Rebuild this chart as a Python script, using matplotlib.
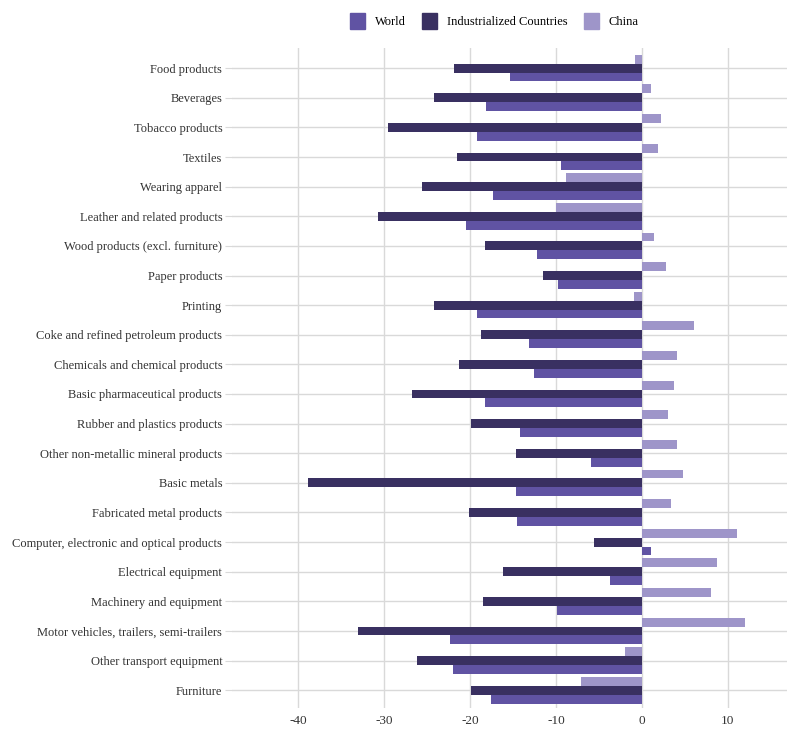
import numpy as np
import matplotlib
matplotlib.use('Agg')
import matplotlib.pyplot as plt
from matplotlib.patches import Patch

categories = [
    "Food products", "Beverages", "Tobacco products", "Textiles",
    "Wearing apparel", "Leather and related products",
    "Wood products (excl. furniture)", "Paper products", "Printing",
    "Coke and refined petroleum products", "Chemicals and chemical products",
    "Basic pharmaceutical products", "Rubber and plastics products",
    "Other non-metallic mineral products", "Basic metals",
    "Fabricated metal products", "Computer, electronic and optical products",
    "Electrical equipment", "Machinery and equipment",
    "Motor vehicles, trailers, semi-trailers", "Other transport equipment",
    "Furniture",
]
world = [-15.4, -18.1, -19.2, -9.4, -17.3, -20.5, -12.2, -9.7, -19.2, -13.1,
         -12.5, -18.2, -14.2, -5.9, -14.7, -14.5, 1.1, -3.7, -9.9, -22.3,
         -22.0, -17.6]
industrialized = [-21.9, -24.2, -29.6, -21.5, -25.6, -30.7, -18.3, -11.5, -24.2,
                  -18.7, -21.3, -26.7, -19.9, -14.7, -38.8, -20.1, -5.6, -16.1,
                  -18.5, -33.0, -26.2, -19.9]
china = [-0.75, 1.1, 2.2, 1.9, -8.8, -10.0, 1.45, 2.8, -0.9, 6.1, 4.1, 3.8,
         3.1, 4.1, 4.8, 3.4, 11.1, 8.7, 8.0, 12.0, -1.9, -7.1]
xticks = [-40, -30, -20, -10, 0, 10]

c_world = "#6053a3"
c_ind = "#393061"
c_china = "#9e95c9"

plt.rcParams['font.family'] = ['Liberation Serif', 'DejaVu Serif']

fig = plt.figure(figsize=(7.87, 7.29), dpi=100)
ax = fig.add_axes([232 / 787, 1 - 708 / 729, (787 - 232) / 787, (708 - 48) / 729])

y = np.arange(len(categories))
h = 0.3
ax.barh(y - h, china, height=h, color=c_china, zorder=3)
ax.barh(y, industrialized, height=h, color=c_ind, zorder=3)
ax.barh(y + h, world, height=h, color=c_world, zorder=3)

ax.set_xlim(-47.7, 16.9)
ax.set_ylim(21.6, -0.68)
ax.set_yticks(y)
ax.set_yticklabels(categories, fontsize=9, color="#333333")
ax.set_xticks(xticks)
ax.set_xticklabels([str(t) for t in xticks], fontsize=9.5, color="#333333")
ax.tick_params(axis='y', length=5, color="#d9d9d9", pad=2)
ax.tick_params(axis='x', length=0, pad=5)
ax.grid(True, color="#d9d9d9", linewidth=1, zorder=0)
for s in ax.spines.values():
    s.set_visible(False)

handles = [Patch(color=c_world, label="World"),
           Patch(color=c_ind, label="Industrialized Countries"),
           Patch(color=c_china, label="China")]
fig.legend(handles=handles, loc='center', bbox_to_anchor=(0.628, 1 - 21 / 729),
           ncol=3, frameon=False, fontsize=9, handlelength=1.2,
           handleheight=1.7, columnspacing=1.3, handletextpad=0.8)

fig.savefig("out.png", dpi=100)
